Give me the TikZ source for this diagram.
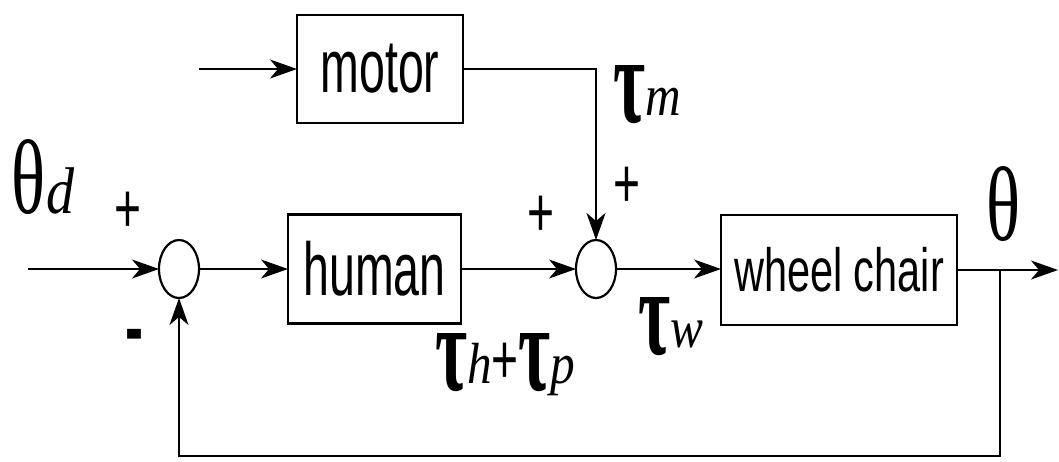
\documentclass[tikz,border=0pt]{standalone}
\usepackage{fontspec}
\usepackage{graphicx}
\usepackage{tikz}
\usetikzlibrary{arrows.meta,shapes.geometric,positioning,calc}
\newfontfamily\blockfont[FakeStretch=0.62]{Liberation Sans}
\newfontfamily\wheelfont[FakeStretch=0.68]{Liberation Sans}
\newfontfamily\signfont[FakeStretch=0.66]{Liberation Sans}
\newfontfamily\greekfont[FakeStretch=0.66]{Liberation Serif}
\newfontfamily\subfont[FakeStretch=0.85]{Liberation Serif}
\newcommand{\fsz}[1]{\fontsize{#1}{#1}\selectfont}
\newcommand{\taug}{\raisebox{-7pt}{\resizebox{32pt}{57pt}{\greekfont\bfseries τ}}}
\newcommand{\thetag}{\resizebox{34pt}{74pt}{\greekfont θ}}
\newcommand{\tq}[1]{\taug{\subfont\itshape\fsz{58}#1}}

\begin{document}
\begin{tikzpicture}[
  x=1pt,y=-1pt,
  every node/.style={inner sep=0pt,outer sep=0pt},
  box/.style={draw,line width=2.2pt,rectangle,font=\blockfont\fsz{75}},
  sum/.style={draw,line width=2.2pt,ellipse,minimum width=40pt,minimum height=58pt},
  sign/.style={font=\signfont\fsz{70}},
  lbl/.style={anchor=base west},
  arr/.style={-{Stealth[length=27pt,width=19pt,inset=8pt]},line width=2pt}
]
\useasboundingbox (0,0) rectangle (1059,461);
% blocks
\node[box,minimum width=166pt,minimum height=108pt] (motor) at (380,69) {motor};
\node[box,minimum width=173pt,minimum height=109pt] (human) at (374.5,269) {human};
\node[box,minimum width=236pt,minimum height=110pt,font=\wheelfont\fsz{61}] (wheel) at (839,270) {wheel chair};
\node[sum] (s1) at (179,269) {};
\node[sum] (s2) at (596,269) {};
% free ends
\coordinate (in) at (28,269);
\coordinate (min) at (199,69);
\coordinate (out) at (1058,270);
\coordinate (fb) at (1000,270);
\coordinate (fbb) at (179,456);
% connectors
\draw[arr] (min) -- (motor);
\draw[arr] (in) -- (s1);
\draw[arr] (s1) -- (human);
\draw[arr] (human) -- (s2);
\draw[arr] (s2) -- (s2 -| wheel.west);
\draw[arr] (wheel) -- (out);
\draw[arr] (motor.east) -| (s2.north);
\draw[arr] (fb) |- (fbb) -- (s1.south);
% labels
\node[lbl] (thd) at (11,213) {\thetag\,{\subfont\itshape\fsz{66}d}};
\node[lbl] (th) at (986,240) {\thetag};
\node[lbl] (tm) at (613,115) {\tq{m}};
\node[lbl] (tw) at (638,347) {\tq{w}};
\node[lbl] (thp) at (435,383) {\tq{h}{\signfont\fsz{70}+}\tq{p}};
\node[sign] (p1) at (128,212) {+};
\node[sign] (p2) at (541,216) {+};
\node[sign] (p3) at (627,187) {+};
\node[sign,font=\signfont\bfseries\fsz{82}] (m1) at (135,342) {-};
\end{tikzpicture}
\end{document}
